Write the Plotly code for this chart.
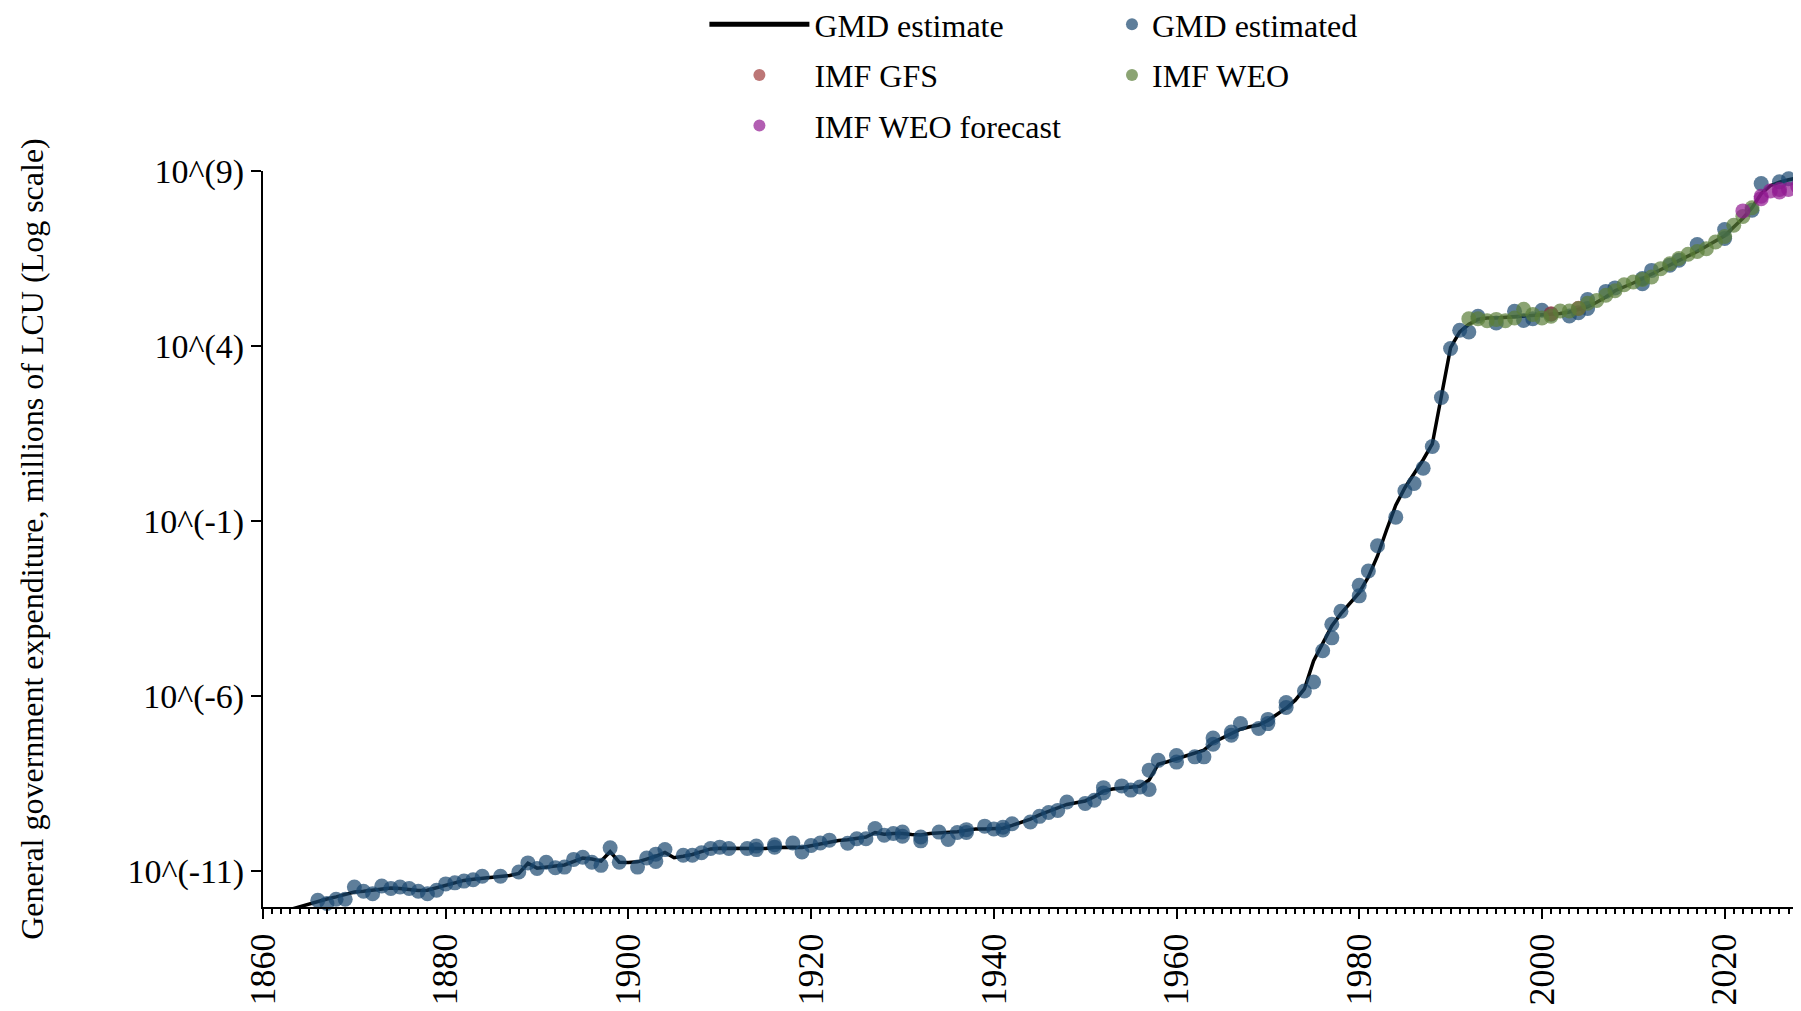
import plotly.graph_objects as go

# ---- data (log10 of general government expenditure, millions of LCU) ----
line_years = list(range(1863, 2030))
line_vals = [
    -12.10, -12.02, -11.95, -11.88, -11.80, -11.74, -11.66,            # 1863-1869
    -11.60, -11.58, -11.55, -11.50, -11.49, -11.50, -11.53, -11.56, -11.55, -11.48,  # 1870-1879
    -11.40, -11.33, -11.27, -11.24, -11.21, -11.19, -11.16, -11.13, -11.07, -10.78,  # 1880-1889
    -10.92, -10.88, -10.86, -10.83, -10.72, -10.63, -10.66, -10.72, -10.45, -10.75,  # 1890-1899
    -10.76, -10.74, -10.66, -10.58, -10.47, -10.62, -10.58, -10.53, -10.45, -10.37,  # 1900-1909
    -10.35, -10.35, -10.35, -10.35, -10.35, -10.36, -10.33, -10.32, -10.32, -10.33,  # 1910-1919
    -10.28, -10.23, -10.17, -10.13, -10.11, -10.08, -10.03, -9.90, -9.95, -9.93,     # 1920-1929
    -9.93, -9.96, -9.97, -9.93, -9.92, -9.90, -9.88, -9.84, -9.80, -9.80,            # 1930-1939
    -9.79, -9.78, -9.70, -9.62, -9.52, -9.40, -9.30, -9.20, -9.10, -9.05,            # 1940-1949
    -9.00, -8.88, -8.72, -8.66, -8.63, -8.62, -8.58, -8.40, -7.95, -7.88,            # 1950-1959
    -7.80, -7.72, -7.65, -7.55, -7.33, -7.20, -7.07, -6.95, -6.88, -6.83,            # 1960-1969
    -6.70, -6.52, -6.35, -6.12, -5.80, -5.00, -4.50, -4.00, -3.65, -3.35,            # 1970-1979
    -3.05, -2.60, -2.00, -1.25, -0.55, -0.05, 0.35, 0.75, 1.20, 2.60,                # 1980-1989
    3.95, 4.40, 4.62, 4.76, 4.80, 4.80, 4.82, 4.82, 4.84, 4.86,                      # 1990-1999
    4.88, 4.90, 4.93, 4.97, 5.05, 5.12, 5.25, 5.40, 5.58, 5.68,                      # 2000-2009
    5.80, 5.92, 6.05, 6.18, 6.32, 6.45, 6.56, 6.70, 6.85, 7.00,                      # 2010-2019
    7.15, 7.40, 7.65, 7.95, 8.35, 8.58, 8.68, 8.75, 8.80, 8.85,                      # 2020-2029
]

gmd_years = [
    1863, 1865, 1866, 1867, 1868, 1869, 1870, 1871, 1872, 1873, 1874, 1875, 1876, 1877, 1878, 1879,
    1880, 1881, 1882, 1883, 1884, 1886, 1888, 1889, 1890, 1891, 1892, 1893, 1894, 1895, 1896, 1897,
    1898, 1899, 1901, 1902, 1903, 1903, 1904, 1906, 1907, 1908, 1909, 1910, 1911, 1913, 1914, 1914,
    1916, 1916, 1918, 1919, 1920, 1921, 1922, 1924, 1925, 1926, 1927, 1928, 1929,
    1930, 1930, 1932, 1932, 1934, 1935, 1936, 1937, 1937, 1939, 1940, 1941, 1941, 1942, 1944, 1945,
    1946, 1947, 1948, 1950, 1951, 1952, 1952, 1954, 1955, 1956, 1957, 1957, 1958, 1960, 1960, 1962,
    1963, 1964, 1964, 1966, 1966, 1967, 1969, 1970, 1970, 1972, 1972, 1974, 1975, 1976, 1977, 1977,
    1978, 1980, 1980, 1981, 1982, 1984, 1985, 1986, 1987, 1988, 1989, 1990, 1991, 1992, 1993, 1995,
    1997, 1998, 1999, 2000, 2001, 2003, 2004, 2005, 2005, 2007, 2008, 2011, 2011, 2012, 2014, 2015,
    2017, 2020, 2020, 2023, 2024, 2026, 2027,
]
gmd_vals = [
    -12.05, -12.05, -11.84, -11.93, -11.81, -11.81, -11.46, -11.58, -11.65, -11.43, -11.50, -11.46, -11.50, -11.58, -11.65, -11.55,
    -11.37, -11.34, -11.29, -11.25, -11.15, -11.15, -11.03, -10.77, -10.93, -10.75, -10.91, -10.89, -10.67, -10.61, -10.75, -10.84,
    -10.34, -10.75, -10.89, -10.63, -10.52, -10.73, -10.39, -10.55, -10.55, -10.48, -10.36, -10.32, -10.36, -10.36, -10.29, -10.39,
    -10.25, -10.32, -10.20, -10.46, -10.27, -10.20, -10.12, -10.21, -10.08, -10.08, -9.79, -9.98, -9.93,
    -9.89, -10.01, -10.14, -10.03, -9.89, -10.10, -9.90, -9.82, -9.90, -9.72, -9.80, -9.75, -9.83, -9.65, -9.60, -9.44,
    -9.33, -9.27, -9.03, -9.07, -8.98, -8.62, -8.77, -8.57, -8.69, -8.60, -8.67, -8.12, -7.84, -7.89, -7.70, -7.74,
    -7.74, -7.38, -7.20, -7.12, -7.03, -6.79, -6.93, -6.79, -6.67, -6.33, -6.19, -5.86, -5.60, -4.71, -4.34, -3.95,
    -3.58, -3.14, -2.84, -2.43, -1.71, -0.89, -0.14, 0.07, 0.51, 1.13, 2.53, 3.93, 4.45, 4.40, 4.85, 4.66,
    4.99, 4.73, 4.78, 5.02, 4.91, 4.86, 4.95, 5.33, 5.07, 5.56, 5.66, 5.93, 5.78, 6.16, 6.31, 6.45,
    6.90, 7.33, 7.07, 7.88, 8.64, 8.69, 8.78,
]

gfs_years = [2001, 2004]
gfs_vals = [4.92, 5.08]

weo_years = list(range(1992, 2024))
weo_vals = [
    4.78, 4.78, 4.72, 4.76, 4.72, 4.80, 5.05, 4.90, 4.80, 4.85,
    5.00, 5.00, 5.07, 5.22, 5.30, 5.45, 5.58, 5.75, 5.83, 5.90,
    5.97, 6.21, 6.35, 6.50, 6.62, 6.70, 6.78, 6.97, 7.13, 7.45,
    7.70, 7.95,
]

fc_years = [2022, 2024, 2024, 2025, 2026, 2026, 2027, 2028]
fc_vals = [7.86, 8.21, 8.28, 8.43, 8.40, 8.47, 8.47, 8.56]

y_tickvals = [9, 4, -1, -6, -11]
y_ticktext = ["10^(9)", "10^(4)", "10^(-1)", "10^(-6)", "10^(-11)"]
x_tickvals = [1860, 1880, 1900, 1920, 1940, 1960, 1980, 2000, 2020]

FONT = "Liberation Serif, Times New Roman, serif"
C_GMD = "rgba(26,71,111,0.7)"
C_GFS = "rgba(160,60,60,0.7)"
C_WEO = "rgba(90,125,55,0.7)"
C_FC = "rgba(145,25,145,0.7)"
MS = 15

fig = go.Figure()
fig.add_trace(go.Scatter(x=line_years, y=line_vals, mode="lines", name="GMD estimate",
                         line=dict(color="black", width=3.5), legend="legend",
                         legendgroup="a", cliponaxis=False))
fig.add_trace(go.Scatter(x=gmd_years, y=gmd_vals, mode="markers", name="GMD estimated",
                         marker=dict(color=C_GMD, size=MS), legend="legend2",
                         legendgroup="b", cliponaxis=False))
fig.add_trace(go.Scatter(x=gfs_years, y=gfs_vals, mode="markers", name="IMF GFS",
                         marker=dict(color=C_GFS, size=MS), legend="legend",
                         legendgroup="c", cliponaxis=False))
fig.add_trace(go.Scatter(x=weo_years, y=weo_vals, mode="markers", name="IMF WEO",
                         marker=dict(color=C_WEO, size=MS), legend="legend2",
                         legendgroup="d", cliponaxis=False))
fig.add_trace(go.Scatter(x=fc_years, y=fc_vals, mode="markers", name="IMF WEO forecast",
                         marker=dict(color=C_FC, size=MS), legend="legend",
                         legendgroup="e", cliponaxis=False))

fig.update_layout(
    width=1793, height=1003,
    margin=dict(l=255, r=0, t=163, b=104, autoexpand=False),
    paper_bgcolor="white", plot_bgcolor="white",
    font=dict(family=FONT, color="black", size=32),
    legend=dict(x=0.287, y=1.2364, xanchor="left", yanchor="top", orientation="v",
                itemwidth=100, tracegroupgap=6, font=dict(size=32, family=FONT),
                bgcolor="rgba(0,0,0,0)", itemsizing="constant"),
    legend2=dict(x=0.552, y=1.2364, xanchor="left", yanchor="top", orientation="v",
                 itemwidth=30, tracegroupgap=6, font=dict(size=32, family=FONT),
                 bgcolor="rgba(0,0,0,0)", itemsizing="constant"),
)

fig.update_xaxes(
    range=[1860, 2028.36], tickvals=x_tickvals, tickangle=-90,
    ticks="outside", ticklen=10, tickwidth=2, tickcolor="black",
    showline=True, linewidth=2, linecolor="black", showgrid=False, zeroline=False,
    tickfont=dict(size=36, family=FONT),
    minor=dict(ticks="outside", ticklen=5, tickwidth=1.5, tickcolor="black", dtick=1, tick0=1860, showgrid=False),
)
fig.update_yaxes(
    range=[-12.03, 9], tickvals=y_tickvals, ticktext=y_ticktext,
    ticks="outside", ticklen=10, tickwidth=2, tickcolor="black",
    showline=True, linewidth=2, linecolor="black", showgrid=False, zeroline=False,
    tickfont=dict(size=34, family=FONT),
    title=dict(text="General government expenditure, millions of LCU (Log scale)",
               font=dict(size=32, family=FONT), standoff=74),
)

fig.write_html("out.html")
